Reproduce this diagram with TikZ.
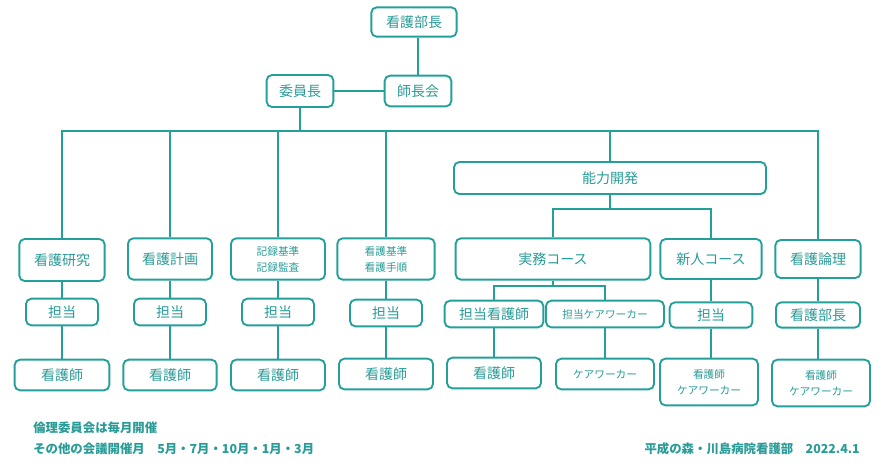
\documentclass[tikz,border=0pt]{standalone}
\usepackage{fontspec}
\setmainfont{Noto Sans CJK JP}
\usepackage{xcolor}
\definecolor{orgteal}{HTML}{24A09B}
\definecolor{orgtext}{HTML}{2A9C98}

\begin{document}
\begin{tikzpicture}[
  x=0.75pt, y=-0.75pt,
  box/.style={
    draw=orgteal, line width=1.4pt, rounded corners=4pt,
    fill=white, inner sep=0pt, align=center,
    text=orgtext, font=\fontsize{10.5pt}{13pt}\selectfont
  },
  sbox/.style={box, font=\fontsize{8pt}{12pt}\selectfont},
  link/.style={draw=orgteal, line width=1.4pt},
  note/.style={text=orgtext, inner sep=0pt, font=\fontsize{9.3pt}{11pt}\selectfont\bfseries},
]
  \useasboundingbox (0,0) rectangle (890,465);

  \node[box, minimum width=64pt, minimum height=22pt] (bucho)    at (414, 22)  {看護部長};
  \node[box, minimum width=50pt, minimum height=24pt] (iincho)   at (300, 91)  {委員長};
  \node[box, minimum width=50pt, minimum height=23pt] (shichokai) at (418, 91) {師長会};

  \node[box, minimum width=64pt, minimum height=31.5pt] (kenkyu)   at (62, 260)  {看護研究};
  \node[box, minimum width=63pt, minimum height=31pt]   (keikaku)  at (170, 259) {看護計画};
  \node[sbox, minimum width=70.5pt, minimum height=31pt] (kiroku)  at (278, 259) {記録基準\\記録監査};
  \node[sbox, minimum width=73pt, minimum height=31pt]  (kijun)    at (386, 259) {看護基準\\看護手順};
  \node[box, minimum width=234pt, minimum height=24pt]  (noryoku)  at (610, 178) {能力開発};
  \node[box, minimum width=146pt, minimum height=31pt]  (jitsumu)  at (553, 259) {実務コース};
  \node[box, minimum width=76pt, minimum height=30pt]   (shinjin)  at (711, 259) {新人コース};
  \node[box, minimum width=64pt, minimum height=28.5pt] (ronri)    at (818, 259) {看護論理};

  \node[box, minimum width=54pt, minimum height=20pt] (tanto1) at (62, 312)  {担当};
  \node[box, minimum width=54pt, minimum height=20pt] (tanto2) at (170, 312) {担当};
  \node[box, minimum width=54pt, minimum height=20pt] (tanto3) at (278, 312) {担当};
  \node[box, minimum width=54pt, minimum height=20pt] (tanto4) at (386, 313) {担当};
  \node[box, minimum width=74pt, minimum height=20pt] (tantokango) at (494, 314) {担当看護師};
  \node[sbox, minimum width=88.5pt, minimum height=20pt] (tantocare) at (605, 314) {担当ケアワーカー};
  \node[box, minimum width=62pt, minimum height=19pt] (tanto5) at (711, 315) {担当};
  \node[box, minimum width=63pt, minimum height=19pt] (bucho2) at (818, 315) {看護部長};

  \node[box, minimum width=71pt, minimum height=23pt] (kango1) at (62, 375)  {看護師};
  \node[box, minimum width=70pt, minimum height=23pt] (kango2) at (170, 375) {看護師};
  \node[box, minimum width=70.5pt, minimum height=23pt] (kango3) at (278, 375) {看護師};
  \node[box, minimum width=70.5pt, minimum height=23pt] (kango4) at (386, 374) {看護師};
  \node[box, minimum width=70.5pt, minimum height=23pt] (kango5) at (494, 373) {看護師};
  \node[sbox, minimum width=73.5pt, minimum height=23pt] (care)  at (605, 374) {ケアワーカー};
  \node[sbox, minimum width=73.5pt, minimum height=35pt] (kangocare1) at (709, 382) {看護師\\ケアワーカー};
  \node[sbox, minimum width=73.5pt, minimum height=35pt] (kangocare2) at (821, 383) {看護師\\ケアワーカー};

  \coordinate (bus)   at (300, 131);
  \coordinate (fork1) at (610, 209);
  \coordinate (fork2) at (553, 286);

  \draw[link] (bucho.south -| shichokai) -- (shichokai);
  \draw[link] (iincho) -- (shichokai);
  \draw[link] (iincho) -- (bus);
  \draw[link] (kenkyu.north) |- (bus) -| (ronri.north);
  \foreach \n in {keikaku, kiroku, kijun, noryoku}
    \draw[link] (\n.north) -- (\n.north |- bus);
  \draw[link] (noryoku.south) -- (fork1);
  \draw[link] (jitsumu.north) |- (fork1) -| (shinjin.north);
  \draw[link] (jitsumu.south) -- (fork2);
  \draw[link] (tantokango.north) |- (fork2) -| (tantocare.north);
  \draw[link] (kenkyu) -- (tanto1) -- (kango1);
  \draw[link] (keikaku) -- (tanto2) -- (kango2);
  \draw[link] (kiroku) -- (tanto3) -- (kango3);
  \draw[link] (kijun) -- (tanto4) -- (kango4);
  \draw[link] (tantokango) -- (kango5);
  \draw[link] (tantocare) -- (care);
  \draw[link] (shinjin) -- (tanto5) -- (kangocare1.north -| tanto5);
  \draw[link] (ronri) -- (bucho2) -- (kangocare2.north -| bucho2);

  \node[note, anchor=west] (note1) at (33, 428) {倫理委員会は毎月開催};
  \node[note, anchor=west] (note2) at (33, 449) {その他の会議開催月\quad 5月・7月・10月・1月・3月};
  \node[note, anchor=east] (credit) at (860, 449) {平成の森・川島病院看護部\quad 2022.4.1};
\end{tikzpicture}
\end{document}
